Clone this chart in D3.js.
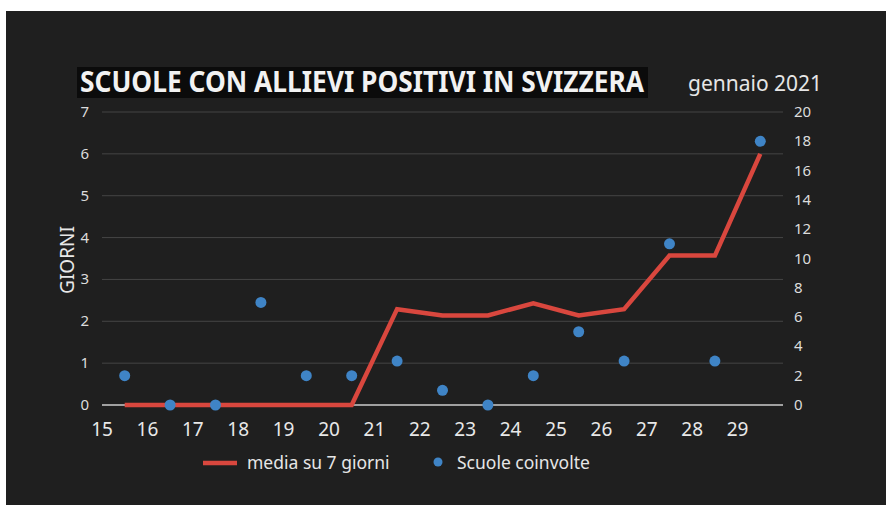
<!DOCTYPE html>
<html>
<head>
<meta charset="utf-8">
<script src="https://cdn.jsdelivr.net/npm/d3@7"></script>
<style>
  body { margin: 0; background: #fff; }
  svg { display: block; font-family: "Noto Sans", "Open Sans", sans-serif; }
</style>
</head>
<body>
<div id="chart"></div>
<script>
// giorni di gennaio 2021
var days = [15, 16, 17, 18, 19, 20, 21, 22, 23, 24, 25, 26, 27, 28, 29];
var xTicks = [15, 16, 17, 18, 19, 20, 21, 22, 23, 24, 25, 26, 27, 28, 29];
// scuole coinvolte (asse destro)
var schools = [2, 0, 0, 7, 2, 2, 3, 1, 0, 2, 5, 3, 11, 3, 18];
// media su 7 giorni (asse sinistro)
var media = [0, 0, 0, 0, 0, 0, 2.29, 2.14, 2.14, 2.43, 2.14, 2.29, 3.57, 3.57, 6.0];
var leftTicks = [0, 1, 2, 3, 4, 5, 6, 7];
var rightTicks = [0, 2, 4, 6, 8, 10, 12, 14, 16, 18, 20];

var W = 888, H = 505;
var svg = d3.select("#chart").append("svg")
    .attr("width", W)
    .attr("height", H);

// sfondo scuro
svg.append("rect")
    .attr("x", 6).attr("y", 11)
    .attr("width", W - 8).attr("height", H - 11)
    .attr("fill", "#1f1f1f");

var x = d3.scaleLinear().domain([15, 30]).range([102, 783]);
var yL = d3.scaleLinear().domain([0, 7]).range([405, 112]);
var yR = d3.scaleLinear().domain([0, 20]).range([405, 112]);

// griglia
svg.append("g").selectAll("line")
    .data(leftTicks)
    .enter().append("line")
    .attr("x1", x(15)).attr("x2", x(30))
    .attr("y1", function(d) { return yL(d); })
    .attr("y2", function(d) { return yL(d); })
    .attr("stroke", function(d) { return d == 0 ? "#a0a0a0" : "#454545"; })
    .attr("stroke-width", function(d) { return d == 0 ? 2 : 1; });

// asse sinistro
svg.append("g").selectAll("text")
    .data(leftTicks)
    .enter().append("text")
    .attr("x", 89)
    .attr("y", function(d) { return yL(d) + 5; })
    .attr("text-anchor", "end")
    .attr("fill", "#dcdcdc")
    .style("font-size", "15px")
    .text(function(d) { return d; });

// asse destro
svg.append("g").selectAll("text")
    .data(rightTicks)
    .enter().append("text")
    .attr("x", 794)
    .attr("y", function(d) { return yR(d) + 5; })
    .attr("fill", "#dcdcdc")
    .style("font-size", "15px")
    .text(function(d) { return d; });

// asse x
svg.append("g").selectAll("text")
    .data(xTicks)
    .enter().append("text")
    .attr("x", function(d) { return x(d); })
    .attr("y", 436)
    .attr("text-anchor", "middle")
    .attr("fill", "#e8e8e8")
    .style("font-size", "19px")
    .text(function(d) { return d; });

// GIORNI
svg.append("text")
    .attr("transform", "translate(74,260) rotate(-90)")
    .attr("text-anchor", "middle")
    .attr("fill", "#e8e8e8")
    .style("font-size", "19px")
    .text("GIORNI");

// linea media
var line = d3.line()
    .x(function(d, i) { return x(days[i] + 0.5); })
    .y(function(d) { return yL(d); });

svg.append("path")
    .datum(media)
    .attr("d", line)
    .attr("fill", "none")
    .attr("stroke", "#d9473e")
    .attr("stroke-width", 4.5)
    .attr("stroke-linejoin", "miter");

// punti scuole
svg.append("g").selectAll("circle")
    .data(schools)
    .enter().append("circle")
    .attr("cx", function(d, i) { return x(days[i] + 0.5); })
    .attr("cy", function(d) { return yR(d); })
    .attr("r", 5.5)
    .attr("fill", "#3f84c6");

// titolo
svg.append("rect")
    .attr("x", 77).attr("y", 67)
    .attr("width", 571).attr("height", 31)
    .attr("fill", "#0b0b0b");
svg.append("text")
    .attr("x", 80).attr("y", 92)
    .attr("fill", "#f2f2f2")
    .attr("textLength", 564)
    .attr("lengthAdjust", "spacingAndGlyphs")
    .style("font-size", "28px")
    .style("font-weight", "bold")
    .text("SCUOLE CON ALLIEVI POSITIVI IN SVIZZERA");

svg.append("text")
    .attr("x", 688).attr("y", 91)
    .attr("fill", "#e6e6e6")
    .style("font-size", "21px")
    .text("gennaio 2021");

// legenda
svg.append("line")
    .attr("x1", 203).attr("x2", 237)
    .attr("y1", 463).attr("y2", 463)
    .attr("stroke", "#d9473e")
    .attr("stroke-width", 4.5);
svg.append("text")
    .attr("x", 247).attr("y", 469)
    .attr("fill", "#e6e6e6")
    .style("font-size", "17.5px")
    .text("media su 7 giorni");
svg.append("circle")
    .attr("cx", 438).attr("cy", 462)
    .attr("r", 4.5)
    .attr("fill", "#3f84c6");
svg.append("text")
    .attr("x", 457).attr("y", 469)
    .attr("fill", "#e6e6e6")
    .style("font-size", "17.5px")
    .text("Scuole coinvolte");
</script>
</body>
</html>
